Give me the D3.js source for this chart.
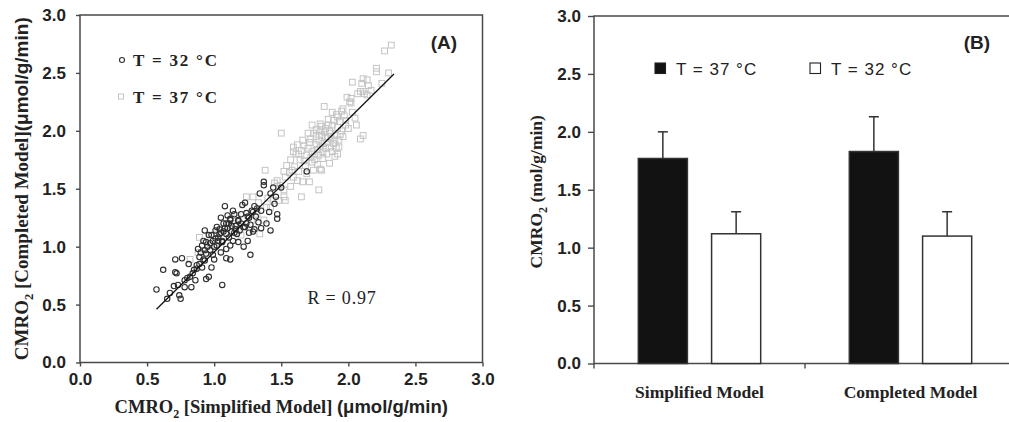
<!DOCTYPE html>
<html>
<head>
<meta charset="utf-8">
<script src="https://cdn.jsdelivr.net/npm/d3@7"></script>
<style>
  body { margin: 0; background: #fff; }
  svg { display: block; }
  .ticklab { font-family: 'Liberation Sans', Arial, sans-serif; font-weight: bold; font-size: 17px; }
</style>
</head>
<body>
<svg id="chart" width="1009" height="422"></svg>
<script>

// ---- data, panel A (scatter) ----
let axisTicks = [0, 0.5, 1.0, 1.5, 2.0, 2.5, 3.0];

// T = 32 C, [simplified, completed]
let cool = [
    [0.57,0.63],[0.62,0.80],[0.65,0.55],[0.71,0.89],[0.76,0.90],[0.71,0.78],[0.72,0.77],[0.74,0.58],
    [0.75,0.55],[0.73,0.67],[0.78,0.65],[0.83,0.65],[0.80,0.73],[0.86,0.71],[0.85,0.80],[0.87,0.84],
    [0.89,0.91],[0.88,0.98],[0.91,1.01],[0.93,1.14],[0.92,1.05],[0.94,1.04],[0.93,0.97],[0.93,0.88],
    [0.96,0.74],[0.94,0.72],[0.98,0.82],[0.99,0.93],[1.06,0.67],[0.98,1.10],[1.01,1.14],[1.02,1.17],
    [1.04,1.11],[1.03,1.05],[1.06,1.04],[1.08,1.16],[1.09,1.20],[1.08,1.35],[1.12,1.24],[1.11,1.08],
    [1.09,0.90],[1.14,1.31],[1.16,1.18],[1.13,1.13],[1.18,1.23],[1.21,1.36],[1.22,1.17],[1.22,1.00],
    [1.25,1.26],[1.28,1.31],[1.27,0.93],[1.29,1.13],[1.33,1.21],[1.35,1.31],[1.37,1.56],[1.37,1.53],
    [1.42,1.46],[1.42,1.14],[1.45,1.37],[1.47,1.24],[1.44,1.51],[1.34,1.46],[1.69,1.65],[1.50,1.51],
    [1.15,1.12],[1.18,1.22],[1.19,1.14],[1.23,1.17],[1.26,1.25],[1.29,1.30],[1.30,1.35],[1.09,1.11],
    [1.06,1.05],[1.02,1.01],[0.99,1.05],[1.03,1.08],[1.04,1.15],[1.07,1.20],[1.12,1.23],[1.17,1.11],
    [1.14,1.05],[1.12,1.01],[1.09,0.98],[0.94,0.94],[0.97,0.97],[0.92,0.89],[0.89,0.85],[0.87,0.81],
    [0.91,0.82],[1.00,0.89],[1.05,0.95],[1.10,1.27],[1.20,1.28],[1.24,1.20],[1.27,1.19],[1.31,1.26],
    [1.15,1.28],[1.00,1.00],[0.96,1.10],[1.05,1.25],[1.35,1.16],[1.39,1.20],[1.41,1.30],[1.47,1.28],
    [1.46,1.43],[1.30,1.15],[1.25,1.05],[0.84,0.77],[0.82,0.74],[0.78,0.71],[0.70,0.66],[0.67,0.60],
    [0.81,0.85],[1.10,1.16],[1.23,1.38],[1.26,1.12],[1.18,1.04],[1.12,0.89],
    [1.01,1.07],[1.07,1.13],[1.13,1.18],[1.16,1.15],[1.20,1.20],[1.11,1.20],[0.95,1.00],[0.90,0.95],
    [1.24,1.29],[1.32,1.33],[1.05,1.12],[0.97,1.03]
];

// T = 37 C
let warm = [
    [2.32,2.74],[2.27,2.69],[2.21,2.54],[2.21,2.51],[2.11,2.45],[2.14,2.44],[2.10,2.41],[2.15,2.39],
    [2.03,2.42],[2.09,2.34],[2.12,2.32],[2.17,2.35],[1.99,2.29],[2.02,2.28],[2.01,2.25],[1.96,2.19],
    [2.25,2.41],[2.30,2.50],[1.82,2.21],[2.02,2.24],[2.07,2.32],[2.11,2.34],[2.14,2.31],[1.50,1.98],
    [1.88,2.16],[1.91,2.14],[1.95,2.17],[1.89,2.09],[1.98,2.09],[2.05,2.11],[2.06,2.05],[2.00,2.02],
    [2.11,1.96],[2.09,1.93],[1.73,2.05],[1.79,2.06],[1.83,2.02],[1.70,1.98],[1.74,1.98],[1.80,1.96],
    [1.85,1.95],[1.90,1.96],[1.93,1.92],[1.89,1.89],[1.91,1.85],[1.88,1.82],[1.83,1.85],[1.76,1.88],
    [1.71,1.90],[1.66,1.92],[1.78,1.92],[1.62,1.88],[1.59,1.82],[1.65,1.83],[1.69,1.79],[1.73,1.82],
    [1.78,1.79],[1.81,1.76],[1.64,1.75],[1.57,1.75],[1.54,1.70],[1.60,1.69],[1.73,1.73],[1.79,1.67],
    [1.80,1.66],[1.74,1.66],[1.52,1.65],[1.53,1.60],[1.59,1.60],[1.62,1.57],[1.66,1.56],[1.71,1.56],
    [1.78,1.49],[1.65,1.43],[1.47,1.57],[1.49,1.53],[1.57,1.52],[1.52,1.49],
    [1.84,1.90],[1.86,2.00],[1.92,2.03],[1.95,2.00],[1.87,1.93],[1.82,1.99],[1.77,1.84],[1.84,1.80],
    [1.93,1.86],[1.96,1.95],[1.70,1.85],[1.68,1.70],[1.75,1.75],[1.86,1.72],[1.90,1.78],[1.94,2.08],
    [1.85,2.10],[1.80,2.04],[1.76,2.01],[1.72,1.93],[1.67,1.87],[1.63,1.80],[1.92,2.12],[1.97,2.13],
    [1.38,1.66],[1.52,1.43],[1.53,1.40],[1.29,1.43],[1.32,1.28],[1.39,1.34],[1.37,1.23],[1.24,1.43],
    [1.28,1.23],[1.17,1.27],[1.34,1.11],[0.82,0.89],[0.89,1.08],[1.02,1.11],[1.22,1.17],[1.44,1.40],
    [1.48,1.40],[1.42,1.34],[1.33,1.38],[1.40,1.42],[1.10,1.18],[1.20,1.10],[1.15,1.20],[0.97,0.98],
    [0.88,0.95],[1.05,1.00],[1.59,1.86],[1.61,1.80],[1.58,1.66],[1.45,1.55],
    [1.81,1.89],[1.87,1.98],[1.90,1.92],[1.79,1.86],[1.83,1.94],[1.88,2.05],[1.76,1.95],[1.94,1.97],
    [1.86,1.86],[1.81,1.82],[1.72,1.77],[1.67,1.74],[1.77,1.71],[1.69,1.63],[1.63,1.65],[1.56,1.64],
    [1.75,1.80],[1.92,1.80],[1.98,2.05],[2.03,2.16],[1.85,2.05],[1.79,2.00]
];

// fitted line end points
let fitLine = [[0.57, 0.46], [2.34, 2.49]];
let rText = "R = 0.97";

// ---- data, panel B (bars) ----
let models = ["Simplified Model", "Completed Model"];
let series = ["T = 37 °C", "T = 32 °C"];
let mean37 = [1.77, 1.83];
let sd37 = [0.23, 0.30];
let mean32 = [1.12, 1.10];
let sd32 = [0.19, 0.21];


let svg = d3.select("#chart");
let frameColor = "#4a4a4a";
let sans = "'Liberation Sans', Arial, sans-serif";
let serif = "'Liberation Serif', 'Times New Roman', serif";

function styleAxis(g) {
    g.attr("font-size", null).attr("font-family", null);
    g.select(".domain").remove();
    g.selectAll(".tick line").attr("stroke", frameColor).attr("stroke-width", 1.4);
    g.selectAll(".tick text")
        .attr("fill", "#222")
        .attr("class", "ticklab");
}

// ================= panel A =================
let xA = d3.scaleLinear().domain([0, 3]).range([80, 482.5]);
let yA = d3.scaleLinear().domain([0, 3]).range([362.5, 15]);

let panelA = svg.append("g");

panelA.append("g")
    .attr("transform", `translate(0,${yA(0)})`)
    .call(d3.axisBottom(xA).tickValues(axisTicks).tickFormat(d3.format(".1f")).tickSize(4).tickPadding(6))
    .call(styleAxis);

panelA.append("g")
    .attr("transform", `translate(${xA(0)},0)`)
    .call(d3.axisLeft(yA).tickValues(axisTicks).tickFormat(d3.format(".1f")).tickSize(4).tickPadding(10))
    .call(styleAxis);

panelA.append("rect")
    .attr("x", xA(0)).attr("y", yA(3))
    .attr("width", xA(3) - xA(0)).attr("height", yA(0) - yA(3))
    .attr("fill", "none").attr("stroke", frameColor).attr("stroke-width", 1.5);

panelA.selectAll(".warm").data(warm).enter().append("rect").attr("class", "warm")
    .attr("x", d => xA(d[0]) - 2.9)
    .attr("y", d => yA(d[1]) - 2.9)
    .attr("width", 5.8).attr("height", 5.8)
    .attr("fill", "none")
    .attr("stroke", "#c4c4c4")
    .attr("stroke-width", 1);

panelA.selectAll(".cool").data(cool).enter().append("circle").attr("class", "cool")
    .attr("cx", d => xA(d[0]))
    .attr("cy", d => yA(d[1]))
    .attr("r", 2.7)
    .attr("fill", "none")
    .attr("stroke", "#2e2e2e")
    .attr("stroke-width", 1.1);

panelA.append("path")
    .datum(fitLine)
    .attr("d", d3.line().x(d => xA(d[0])).y(d => yA(d[1])))
    .attr("stroke", "#111").attr("stroke-width", 1.3).attr("fill", "none");

// legend A
panelA.append("circle").attr("cx", 122).attr("cy", 60).attr("r", 2.5)
    .attr("fill", "none").attr("stroke", "#2e2e2e").attr("stroke-width", 1.1);
panelA.append("rect").attr("x", 118.5).attr("y", 94).attr("width", 5).attr("height", 5)
    .attr("fill", "none").attr("stroke", "#c4c4c4").attr("stroke-width", 1);

panelA.selectAll(".legA").data([series[1], series[0]]).enter().append("text")
    .attr("x", 133)
    .attr("y", (d, i) => 66 + i * 37)
    .text(d => d)
    .style("font-family", serif).style("font-weight", "bold")
    .style("font-size", "17px").style("letter-spacing", "1.8px")
    .attr("fill", "#222");

panelA.append("text").attr("x", 444).attr("y", 49).attr("text-anchor", "middle")
    .text("(A)")
    .style("font-family", sans).style("font-weight", "bold").style("font-size", "19px")
    .attr("fill", "#222");

panelA.append("text").attr("x", 342).attr("y", 304).attr("text-anchor", "middle")
    .text(rText)
    .style("font-family", serif).style("font-size", "18px").style("letter-spacing", "0.8px")
    .attr("fill", "#222");

// axis titles A
let xTitle = panelA.append("text")
    .attr("x", (xA(0) + xA(3)) / 2).attr("y", 413)
    .attr("text-anchor", "middle")
    .style("font-size", "18.5px").style("font-weight", "bold")
    .attr("fill", "#222");
xTitle.append("tspan").style("font-family", serif).text("CMRO");
xTitle.append("tspan").style("font-family", serif).style("font-size", "12px").attr("dy", 5).text("2");
xTitle.append("tspan").style("font-family", serif).attr("dy", -5).text(" [Simplified Model] ");
xTitle.append("tspan").style("font-family", sans).text("(μmol/g/min)");

let yTitle = panelA.append("text")
    .attr("transform", `translate(28,${(yA(0) + yA(3)) / 2}) rotate(-90)`)
    .attr("text-anchor", "middle")
    .style("font-size", "19px").style("font-weight", "bold")
    .attr("fill", "#222");
yTitle.append("tspan").style("font-family", serif).text("CMRO");
yTitle.append("tspan").style("font-family", serif).style("font-size", "12.5px").attr("dy", 5).text("2");
yTitle.append("tspan").style("font-family", serif).attr("dy", -5).text(" [Completed Model]");
yTitle.append("tspan").style("font-family", sans).text("(μmol/g/min)");


// ================= panel B =================
let yB = d3.scaleLinear().domain([0, 3]).range([363.5, 16]);
let xB = d3.scaleBand().domain(models).range([594, 1016]);
let subB = d3.scaleBand().domain(series)
    .range([xB.bandwidth() * 0.21, xB.bandwidth() * 0.79])
    .paddingInner(0.33);

let panelB = svg.append("g");

panelB.append("g")
    .attr("transform", `translate(${xB.range()[0]},0)`)
    .call(d3.axisLeft(yB).tickValues(axisTicks).tickFormat(d3.format(".1f")).tickSize(6).tickPadding(7))
    .call(styleAxis);

panelB.append("rect")
    .attr("x", xB.range()[0]).attr("y", yB(3))
    .attr("width", xB.range()[1] - xB.range()[0]).attr("height", yB(0) - yB(3))
    .attr("fill", "none").attr("stroke", frameColor).attr("stroke-width", 1.5);

// small ticks between the groups
let edges = models.map(d => xB(d)).concat([xB.range()[1]]);
panelB.selectAll(".edge").data(edges).enter().append("line")
    .attr("x1", d => d).attr("x2", d => d)
    .attr("y1", yB(0)).attr("y2", yB(0) + 5)
    .attr("stroke", frameColor).attr("stroke-width", 1.4);

// category labels
panelB.append("g")
    .attr("transform", `translate(0,${yB(0)})`)
    .call(d3.axisBottom(xB).tickSize(0).tickPadding(22))
    .call(g => {
        g.select(".domain").remove();
        g.selectAll(".tick text")
            .attr("fill", "#222")
            .style("font-family", serif).style("font-weight", "bold").style("font-size", "17.5px");
    });

let bars = [
    {key: series[0], mean: mean37, sd: sd37, fill: "#121212"},
    {key: series[1], mean: mean32, sd: sd32, fill: "#ffffff"}
];

let groups = panelB.selectAll(".model").data(models).enter().append("g").attr("class", "model")
    .attr("transform", d => `translate(${xB(d)},0)`);

bars.forEach(s => {
    // error bars first (upper only)
    groups.append("line")
        .attr("x1", subB(s.key) + subB.bandwidth() / 2)
        .attr("x2", subB(s.key) + subB.bandwidth() / 2)
        .attr("y1", (d, i) => yB(s.mean[i]))
        .attr("y2", (d, i) => yB(s.mean[i] + s.sd[i]))
        .attr("stroke", "#333").attr("stroke-width", 1.5);
    groups.append("line")
        .attr("x1", subB(s.key) + subB.bandwidth() / 2 - 5)
        .attr("x2", subB(s.key) + subB.bandwidth() / 2 + 5)
        .attr("y1", (d, i) => yB(s.mean[i] + s.sd[i]))
        .attr("y2", (d, i) => yB(s.mean[i] + s.sd[i]))
        .attr("stroke", "#333").attr("stroke-width", 1.5);
    groups.append("rect")
        .attr("x", subB(s.key))
        .attr("width", subB.bandwidth())
        .attr("y", (d, i) => yB(s.mean[i]))
        .attr("height", (d, i) => yB(0) - yB(s.mean[i]))
        .attr("fill", s.fill)
        .attr("stroke", "#333").attr("stroke-width", 1.5);
});

// legend B
let legendX = [655, 810];
bars.forEach((s, i) => {
    panelB.append("rect")
        .attr("x", legendX[i]).attr("y", 63)
        .attr("width", 10.5).attr("height", 10.5)
        .attr("fill", s.fill).attr("stroke", "#222").attr("stroke-width", 1.1);
    panelB.append("text")
        .attr("x", legendX[i] + 21).attr("y", 74.5)
        .text(s.key)
        .style("font-family", sans).style("font-size", "17px").style("letter-spacing", "1px")
        .attr("fill", "#222");
});

panelB.append("text").attr("x", 977).attr("y", 49).attr("text-anchor", "middle")
    .text("(B)")
    .style("font-family", sans).style("font-weight", "bold").style("font-size", "19px")
    .attr("fill", "#222");

let yTitleB = panelB.append("text")
    .attr("transform", `translate(542,${(yB(0) + yB(3)) / 2 + 2}) rotate(-90)`)
    .attr("text-anchor", "middle")
    .style("font-family", serif).style("font-size", "17.5px").style("font-weight", "bold")
    .attr("fill", "#222");
yTitleB.append("tspan").text("CMRO");
yTitleB.append("tspan").style("font-size", "12px").attr("dy", 5).text("2");
yTitleB.append("tspan").attr("dy", -5).text(" (mol/g/min)");

</script>
</body>
</html>
